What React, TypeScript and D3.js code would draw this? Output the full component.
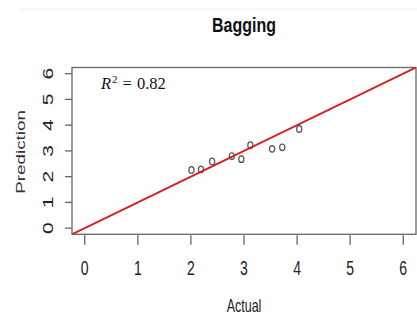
import React from "react";
import * as d3 from "d3";

const actual = [2.01, 2.19, 2.4, 2.77, 2.95, 3.12, 3.53, 3.72, 4.04];
const predicted = [2.26, 2.28, 2.59, 2.8, 2.68, 3.22, 3.08, 3.14, 3.85];
const xTicks = [0, 1, 2, 3, 4, 5, 6];
const yTicks = [0, 1, 2, 3, 4, 5, 6];
const title = "Bagging";
const xLabel = "Actual";
const yLabel = "Prediction";
const r2 = "0.82";

export default function App() {
  const W = 417, H = 316;
  const left = 72, right = 416, top = 67.5, bottom = 234.3;
  const x = d3.scaleLinear().domain([-0.24, 6.24]).range([left, right]);
  const y = d3.scaleLinear().domain([-0.24, 6.24]).range([bottom, top]);
  const sy = 1.45;
  const txt = "#222";
  const axisCol = "#666";
  const font = "'Liberation Sans', Arial, sans-serif";
  const line = d3.line<number>().x((d) => x(d)).y((d) => y(d));
  return (
    <div style={{ position: "fixed", left: 0, top: 0 }}>
      <svg width={W} height={H} style={{ display: "block", background: "#fff" }}>
        <defs>
          <clipPath id="plotclip">
            <rect x={left} y={top} width={right - left} height={bottom - top} />
          </clipPath>
        </defs>
        <line x1={20} x2={W} y1={9} y2={9} stroke="#f0f0f0" strokeWidth={1} />
        <text
          transform={`translate(${(left + right) / 2},31.5) scale(1,1.22)`}
          textAnchor="middle"
          fontFamily={font}
          fontWeight="bold"
          fontSize={16}
          fill="#111"
        >
          {title}
        </text>
        {/* box */}
        <rect x={left} y={top} width={right - left} height={bottom - top} fill="none" stroke={axisCol} strokeWidth={1.3} />
        {/* x ticks */}
        {xTicks.map((t) => (
          <g key={"x" + t}>
            <line x1={x(t)} x2={x(t)} y1={bottom + 1} y2={bottom + 10.5} stroke={axisCol} strokeWidth={1.3} />
            <text
              transform={`translate(${x(t)},275) scale(1,${sy})`}
              textAnchor="middle"
              fontFamily={font}
              fontSize={14}
              fill={txt}
            >
              {t}
            </text>
          </g>
        ))}
        {/* y ticks */}
        {yTicks.map((t) => (
          <g key={"y" + t}>
            <line x1={left - 7} x2={left} y1={y(t)} y2={y(t)} stroke={axisCol} strokeWidth={1.3} />
            <text
              transform={`translate(53,${y(t)}) scale(1,${sy}) rotate(-90)`}
              textAnchor="middle"
              fontFamily={font}
              fontSize={14.5}
              fill={txt}
            >
              {t}
            </text>
          </g>
        ))}
        <text
          transform={`translate(${(left + right) / 2},311.5) scale(1,1.45)`}
          textAnchor="middle"
          fontFamily={font}
          fontSize={12.5}
          fill={txt}
        >
          {xLabel}
        </text>
        <text
          transform={`translate(25,${(top + bottom) / 2 + 1}) scale(1,${sy}) rotate(-90)`}
          textAnchor="middle"
          fontFamily={font}
          fontSize={13}
          fill="#333"
        >
          {yLabel}
        </text>
        {/* points */}
        {actual.map((a, i) => (
          <ellipse
            key={"p" + i}
            cx={x(a)}
            cy={y(predicted[i])}
            rx={2.6}
            ry={3.3}
            fill="none"
            stroke="#555"
            strokeWidth={1.2}
          />
        ))}
        {/* y = x line */}
        <path
          d={line([-0.3, 6.3]) || ""}
          stroke="#d42020"
          strokeWidth={2}
          fill="none"
          clipPath="url(#plotclip)"
        />
        {/* R^2 annotation */}
        <text x={101} y={89} fontFamily="'Liberation Serif', 'DejaVu Serif', serif" fontSize={16.5} fill="#111">
          <tspan fontStyle="italic">R</tspan>
          <tspan dy={-6.5} dx={1} fontSize={11}>2</tspan>
          <tspan dy={6.5} dx={5}>=</tspan>
          <tspan dx={5}>{r2}</tspan>
        </text>
      </svg>
    </div>
  );
}
